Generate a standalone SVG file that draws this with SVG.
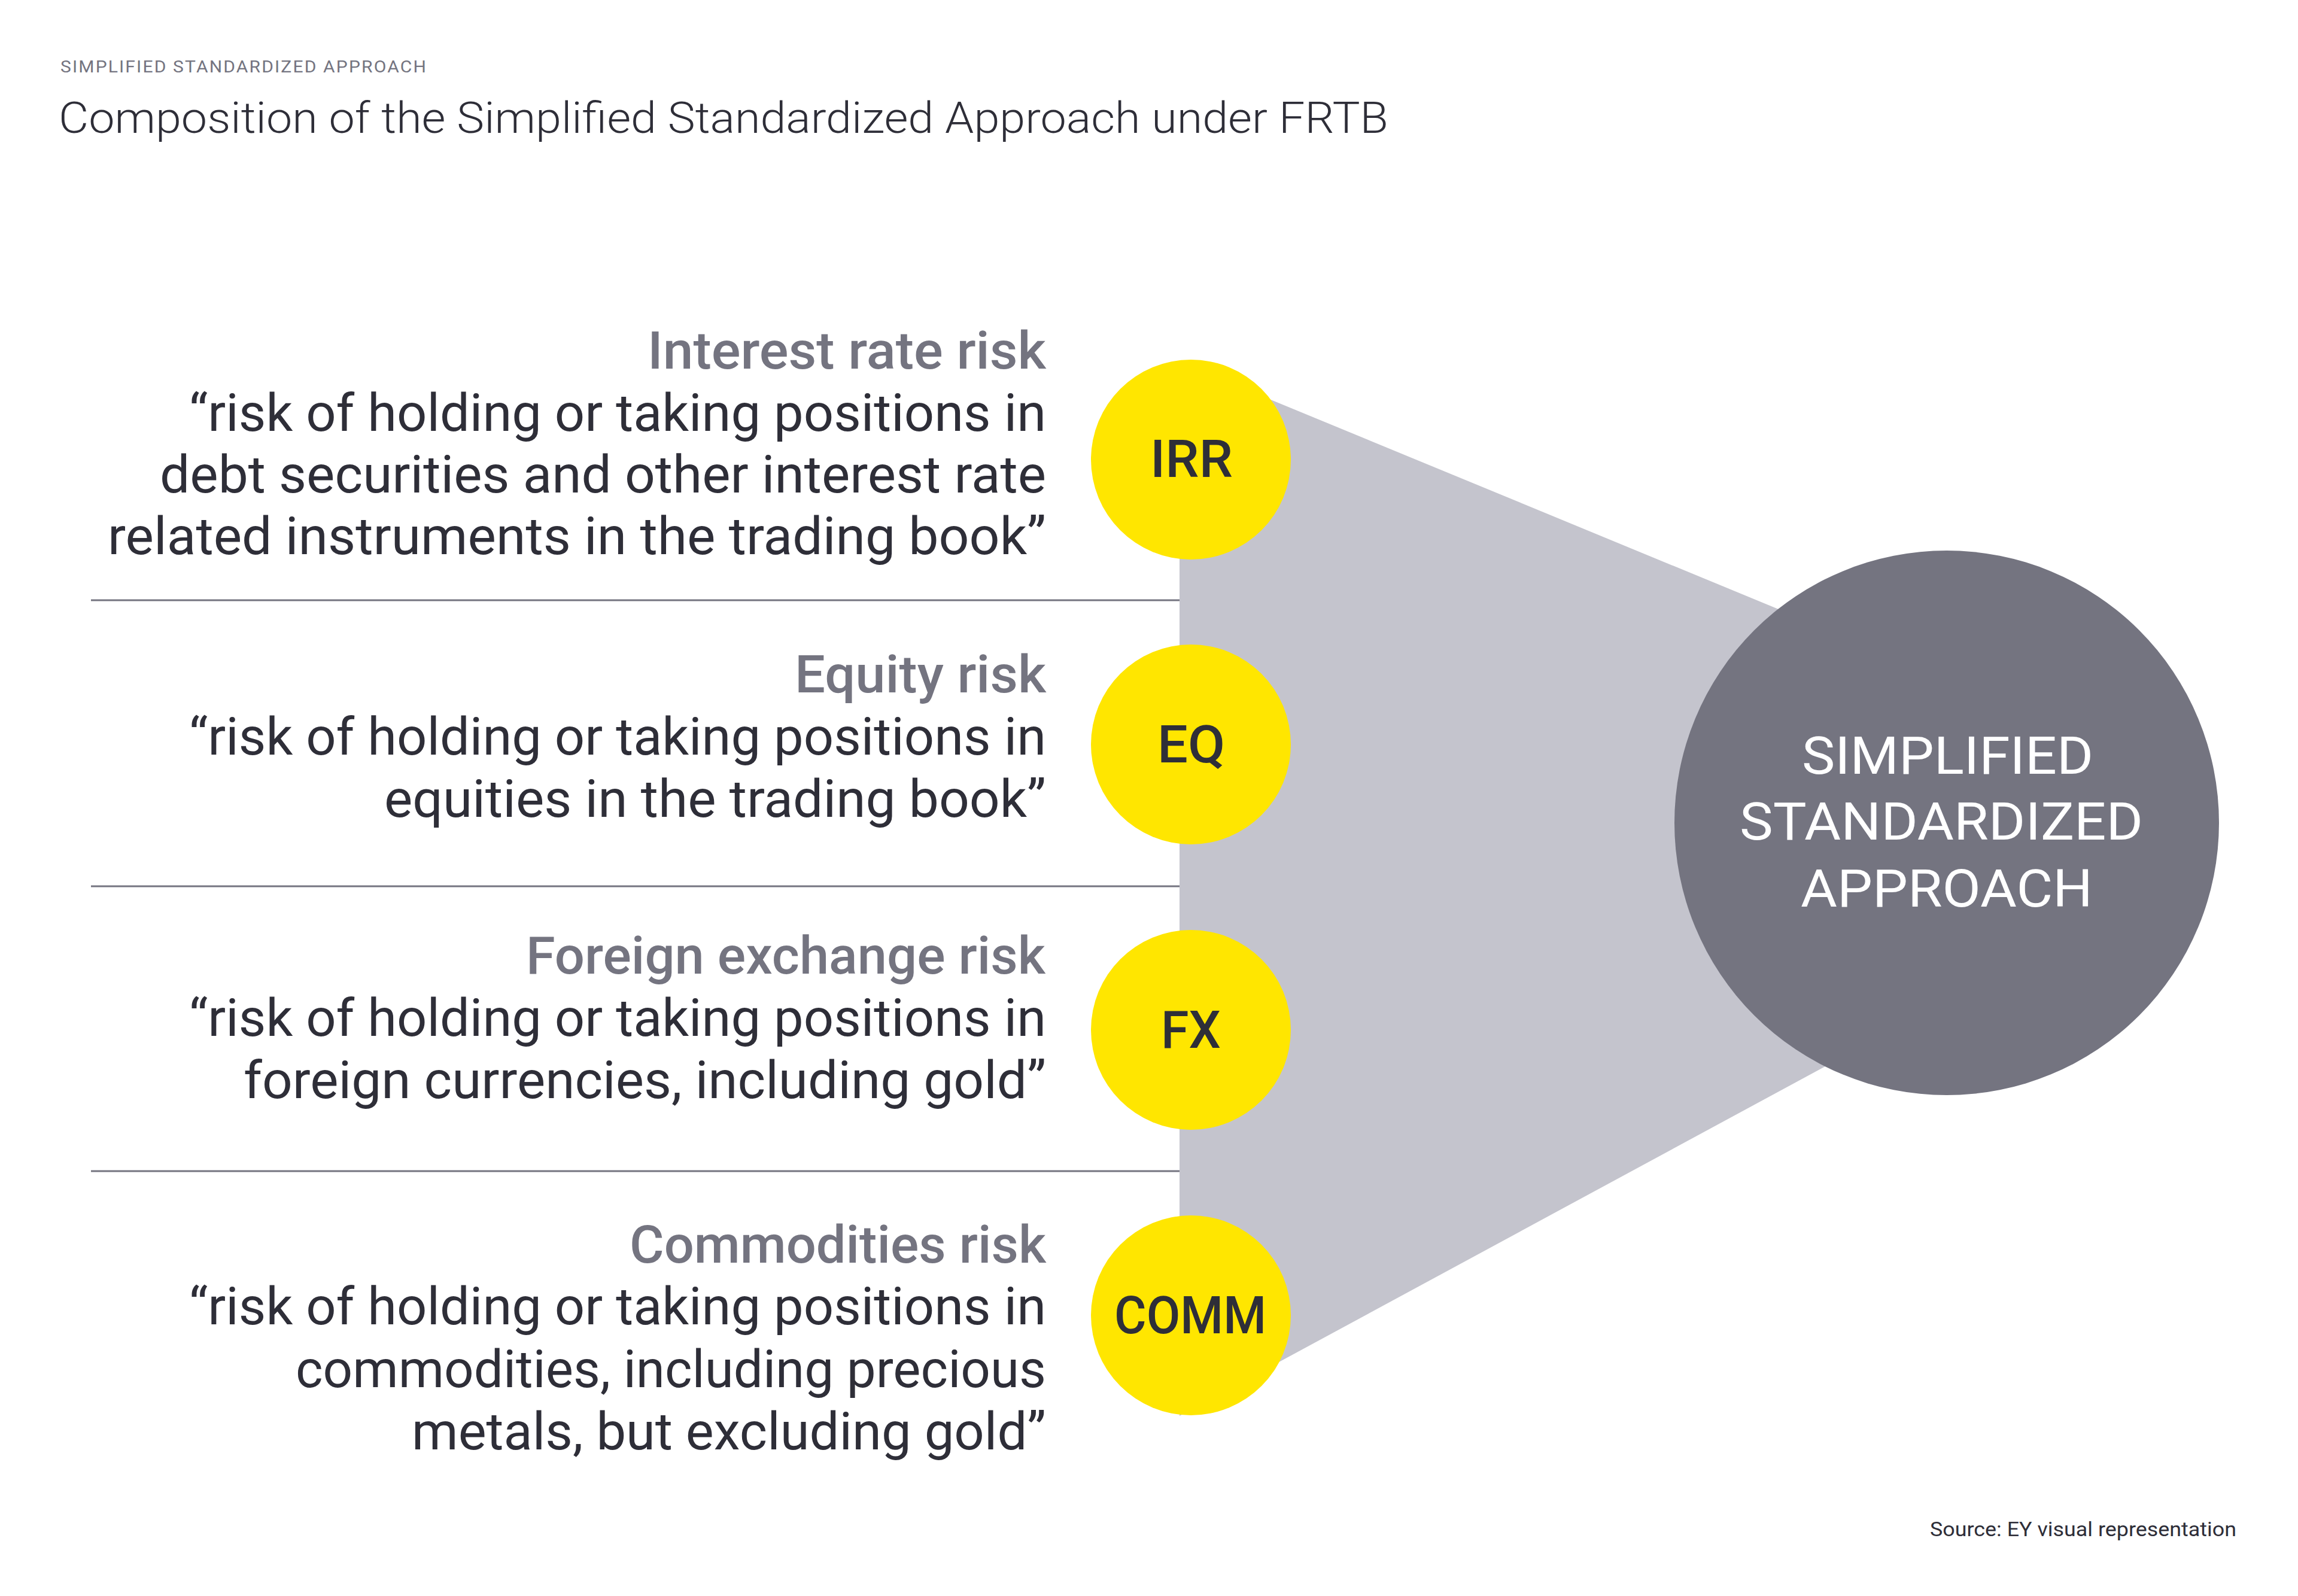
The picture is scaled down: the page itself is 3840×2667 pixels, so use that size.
<svg xmlns="http://www.w3.org/2000/svg" width="3840" height="2667" viewBox="0 0 3840 2667">
<style>
text{font-family:Roboto,"Liberation Sans",Arial,sans-serif}
.kick{font-size:28px;fill:#747480;letter-spacing:2px}
.title{font-size:73px;fill:#2E2E38;font-weight:300}
.head{font-size:88px;fill:#747480;font-weight:500}
.body{font-size:88px;fill:#2E2E38}
.badge{font-size:88px;fill:#2E2E38;font-weight:500}
.big{font-size:88px;fill:#FFFFFF}
.src{font-size:33px;fill:#2E2E38}
.sep{stroke:#747480;stroke-width:3}
.yel{fill:#FFE600}
</style>
<rect width="3840" height="2667" fill="#FFFFFF"/>
<text class="kick" x="101" y="121" textLength="613" lengthAdjust="spacingAndGlyphs">SIMPLIFIED STANDARDIZED APPROACH</text>
<text class="title" x="98" y="222" textLength="2222" lengthAdjust="spacingAndGlyphs">Composition of the Simplified Standardized Approach under FRTB</text>

<g id="connectors">
<polygon id="funnel" points="1971,605 3253,1134 3253,1672 1971,2366" fill="#C4C4CD"/>
<line class="sep" x1="152" y1="1003" x2="1971" y2="1003"/>
<line class="sep" x1="152" y1="1481" x2="1971" y2="1481"/>
<line class="sep" x1="152" y1="1957" x2="1971" y2="1957"/>
</g>

<g id="node-irr">
<text class="head" x="1082" y="616" textLength="666" lengthAdjust="spacingAndGlyphs">Interest rate risk</text>
<text class="body" x="316" y="720" textLength="1432" lengthAdjust="spacingAndGlyphs">“risk of holding or taking positions in</text>
<text class="body" x="267" y="823" textLength="1481" lengthAdjust="spacingAndGlyphs">debt securities and other interest rate</text>
<text class="body" x="180" y="926" textLength="1568" lengthAdjust="spacingAndGlyphs">related instruments in the trading book”</text>
<circle class="yel" cx="1990" cy="768" r="167"/>
<text class="badge" x="1922" y="797" textLength="138" lengthAdjust="spacingAndGlyphs">IRR</text>
</g>

<g id="node-eq">
<text class="head" x="1328" y="1157" textLength="420" lengthAdjust="spacingAndGlyphs">Equity risk</text>
<text class="body" x="316" y="1261" textLength="1432" lengthAdjust="spacingAndGlyphs">“risk of holding or taking positions in</text>
<text class="body" x="642" y="1365" textLength="1106" lengthAdjust="spacingAndGlyphs">equities in the trading book”</text>
<circle class="yel" cx="1990" cy="1244" r="167"/>
<text class="badge" x="1934" y="1274" textLength="113" lengthAdjust="spacingAndGlyphs">EQ</text>
</g>

<g id="node-fx">
<text class="head" x="879" y="1627" textLength="868" lengthAdjust="spacingAndGlyphs">Foreign exchange risk</text>
<text class="body" x="316" y="1731" textLength="1432" lengthAdjust="spacingAndGlyphs">“risk of holding or taking positions in</text>
<text class="body" x="407" y="1835" textLength="1341" lengthAdjust="spacingAndGlyphs">foreign currencies, including gold”</text>
<circle class="yel" cx="1990" cy="1721" r="167"/>
<text class="badge" x="1940" y="1751" textLength="100" lengthAdjust="spacingAndGlyphs">FX</text>
</g>

<g id="node-comm">
<text class="head" x="1052" y="2110" textLength="696" lengthAdjust="spacingAndGlyphs">Commodities risk</text>
<text class="body" x="316" y="2213" textLength="1432" lengthAdjust="spacingAndGlyphs">“risk of holding or taking positions in</text>
<text class="body" x="494" y="2318" textLength="1254" lengthAdjust="spacingAndGlyphs">commodities, including precious</text>
<text class="body" x="688" y="2422" textLength="1060" lengthAdjust="spacingAndGlyphs">metals, but excluding gold”</text>
<circle class="yel" cx="1990" cy="2198" r="167"/>
<text class="badge" x="1862" y="2228" textLength="254" lengthAdjust="spacingAndGlyphs">COMM</text>
</g>

<g id="node-ssa">
<circle cx="3253" cy="1375" r="455" fill="#747480"/>
<text class="big" x="3011" y="1293" textLength="487" lengthAdjust="spacingAndGlyphs">SIMPLIFIED</text>
<text class="big" x="2907" y="1403" textLength="674" lengthAdjust="spacingAndGlyphs">STANDARDIZED</text>
<text class="big" x="3009" y="1515" textLength="488" lengthAdjust="spacingAndGlyphs">APPROACH</text>
</g>

<text class="src" x="3225" y="2567" textLength="512" lengthAdjust="spacingAndGlyphs">Source: EY visual representation</text>
</svg>
